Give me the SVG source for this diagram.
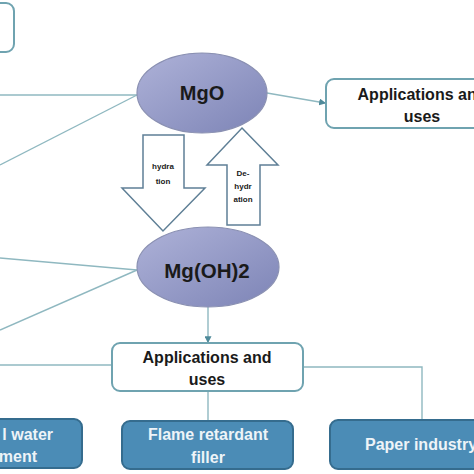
<svg xmlns="http://www.w3.org/2000/svg" width="474" height="474" viewBox="0 0 474 474">
<style>
.con{fill:none;stroke:#8fb8c0;stroke-width:1.4}
.wbox{fill:#ffffff;stroke:#6fa3b0;stroke-width:2}
.bbox{fill:#4b8cb6;stroke:#356c8e;stroke-width:2}
.ell{fill:url(#eg);stroke:#8a90b2;stroke-width:1.2}
.arr{fill:#ffffff;stroke:#5f7f96;stroke-width:1.5}
.t{font-family:"Liberation Sans",Arial,sans-serif;font-weight:bold;fill:#1a1a1a;text-anchor:middle}
.tw{font-family:"Liberation Sans",Arial,sans-serif;font-weight:bold;fill:#eef4f8;font-size:16px}
.ts{font-family:"Liberation Sans",Arial,sans-serif;font-weight:bold;fill:#1a1a1a;text-anchor:middle;font-size:8px}
</style>
<defs>
<linearGradient id="eg" x1="0" y1="0" x2="1" y2="1">
<stop offset="0" stop-color="#aeb2d8"/>
<stop offset="1" stop-color="#7d84b6"/>
</linearGradient>
<marker id="ah" viewBox="0 0 6 6" refX="5" refY="3" markerWidth="5" markerHeight="5" orient="auto">
<path d="M0,0 L6,3 L0,6 z" fill="#4f8a9a"/>
</marker>
</defs>
<g id="connectors">
<line class="con" x1="0" y1="95" x2="137" y2="95"/>
<line class="con" x1="0" y1="165" x2="137" y2="95"/>
<line class="con" x1="267" y1="93" x2="325" y2="103" marker-end="url(#ah)"/>
<line class="con" x1="0" y1="258" x2="137" y2="270"/>
<line class="con" x1="0" y1="330" x2="137" y2="270"/>
<line class="con" x1="208" y1="307" x2="208" y2="342" marker-end="url(#ah)"/>
<line class="con" x1="0" y1="365" x2="112" y2="365"/>
<polyline class="con" points="303,367 422,367 422,419"/>
<line class="con" x1="208" y1="391" x2="208" y2="421"/>
</g>
<g id="topleft-box">
<rect class="wbox" x="-20" y="3" width="34" height="49" rx="8"/>
</g>
<g id="mgo">
<ellipse class="ell" cx="202" cy="93" rx="65" ry="40"/>
<text class="t" x="202" y="100" font-size="20">MgO</text>
</g>
<g id="apps-top">
<rect class="wbox" x="326" y="79" width="200" height="49" rx="8"/>
<text class="t" x="422" y="100" font-size="16">Applications and</text>
<text class="t" x="422" y="122" font-size="16">uses</text>
</g>
<g id="hydration">
<polygon class="arr" points="143,135 184,135 184,188 205,188 163,231 122,188 143,188"/>
<text class="ts" x="163" y="169">hydra</text>
<text class="ts" x="163" y="184">tion</text>
</g>
<g id="dehydration">
<polygon class="arr" points="242,128 278,165 260,165 260,225 227,225 227,165 207,165"/>
<text class="ts" x="243" y="176">De-</text>
<text class="ts" x="243" y="189">hydr</text>
<text class="ts" x="243" y="202">ation</text>
</g>
<g id="mgoh2">
<ellipse class="ell" cx="208" cy="267" rx="71" ry="40"/>
<text class="t" x="207" y="278" font-size="20.5">Mg(OH)2</text>
</g>
<g id="apps-bottom">
<rect class="wbox" x="112" y="343" width="191" height="48" rx="8"/>
<text class="t" x="207" y="363" font-size="16">Applications and</text>
<text class="t" x="207" y="385" font-size="16">uses</text>
</g>
<g id="water">
<rect class="bbox" x="-40" y="419" width="122" height="49" rx="8"/>
<text class="tw" x="53" y="440" text-anchor="end">l water</text>
<text class="tw" x="37" y="462" text-anchor="end">ment</text>
</g>
<g id="flame">
<rect class="bbox" x="122" y="421" width="171" height="48" rx="8"/>
<text class="tw" x="208" y="440" text-anchor="middle">Flame retardant</text>
<text class="tw" x="208" y="463" text-anchor="middle">filler</text>
</g>
<g id="paper">
<rect class="bbox" x="330" y="420" width="180" height="49" rx="8"/>
<text class="tw" x="365" y="450">Paper industry</text>
</g>
</svg>
